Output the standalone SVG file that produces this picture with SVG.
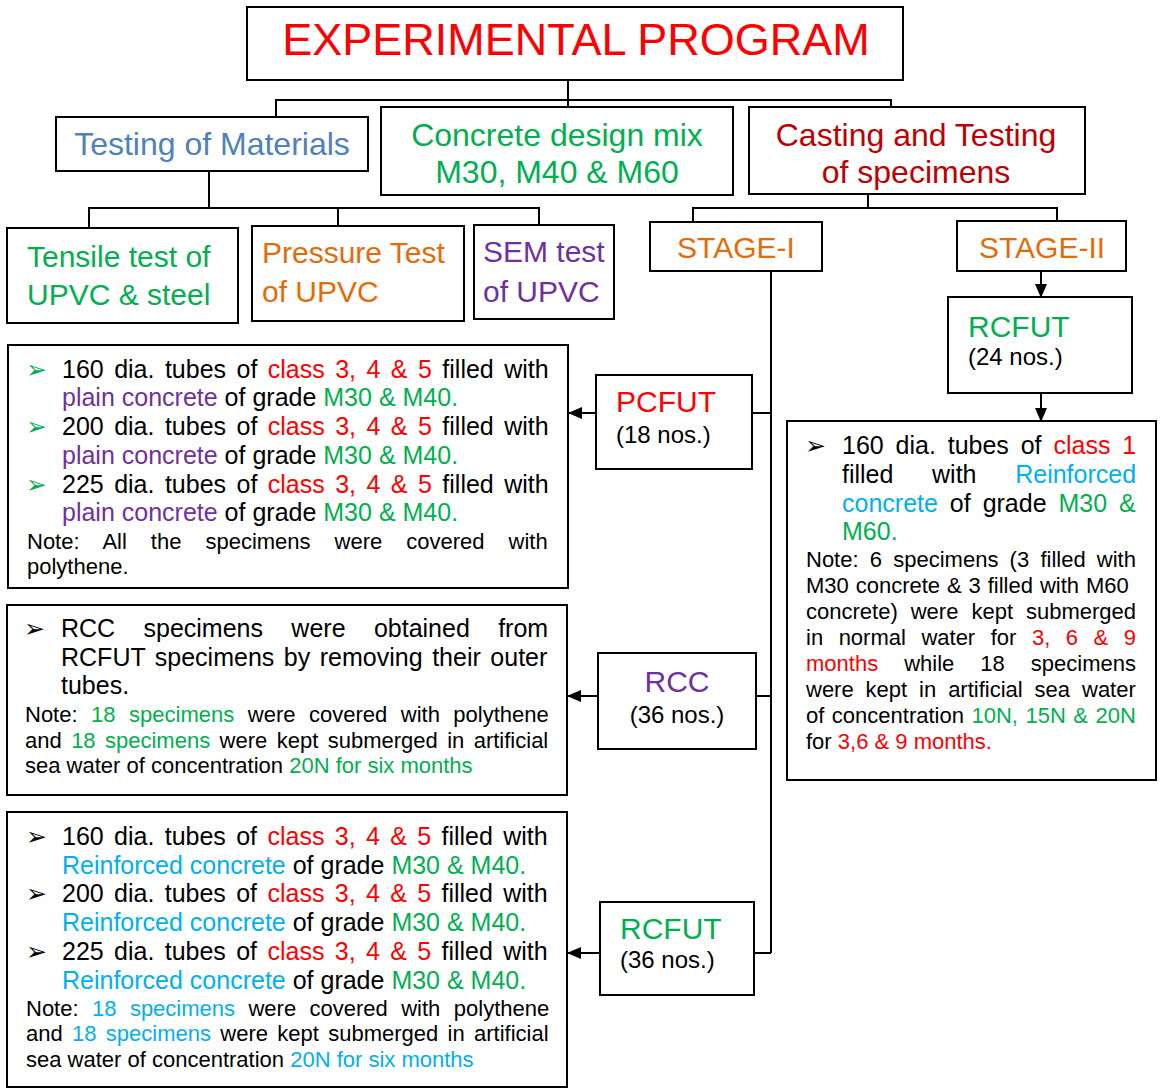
<svg xmlns="http://www.w3.org/2000/svg" width="1160" height="1089" viewBox="0 0 1160 1089">
<defs>
<marker id="ah" markerUnits="userSpaceOnUse" markerWidth="14" markerHeight="12" refX="13" refY="6" orient="auto">
<path d="M0,0 L14,6 L0,12 Z" fill="#000"/>
</marker>
<style>
rect{fill:#fff;stroke:#000;stroke-width:2}
text{font-family:"Liberation Sans",Arial,Helvetica,sans-serif;fill:#000}
.c line,.c path{stroke:#000;stroke-width:2;fill:none}
.b{font-family:"DejaVu Sans",sans-serif;font-size:25px}
.f25{font-size:25px}
.f22{font-size:22px}
.f24{font-size:24px}
.f30{font-size:30px}
.f32{font-size:32px}
.red{fill:#FF0000}
.grn{fill:#00B050}
.pur{fill:#7030A0}
.lb{fill:#00B0F0}
.org{fill:#E36C09}
.blu{fill:#4F81BD}
.dr{fill:#C00000}
.mid{text-anchor:middle}
</style>
</defs>

<g class="c" id="connectors">
<path d="M568,80 V100 M276,117 V100 H891 V107 M568,100 V107"/>
<path d="M209,171 V208 M89,228 V208 H539 V225 M338,208 V226"/>
<path d="M868,194 V208 M693,222 V208 H1057 V221"/>
<path d="M771,271 V953 M752,413 H771 M756,696 H771 M754,953 H771"/>
<line x1="596" y1="413" x2="569" y2="413" marker-end="url(#ah)"/>
<line x1="598" y1="696" x2="568" y2="696" marker-end="url(#ah)"/>
<line x1="600" y1="953" x2="568" y2="953" marker-end="url(#ah)"/>
<line x1="1041" y1="271" x2="1041" y2="297" marker-end="url(#ah)"/>
<line x1="1041" y1="393" x2="1041" y2="421" marker-end="url(#ah)"/>
</g>

<g id="experimental-program">
<rect x="247" y="7" width="656" height="73"/>
<text x="576" y="55" class="mid red" font-size="45">EXPERIMENTAL PROGRAM</text>
</g>

<g id="testing-materials">
<rect x="56" y="117" width="312" height="54"/>
<text x="212" y="155" class="mid blu f32">Testing of Materials</text>
</g>

<g id="concrete-mix">
<rect x="381" y="107" width="352" height="88"/>
<text x="557" y="146" class="mid grn f32">Concrete design mix</text>
<text x="557" y="183" class="mid grn f32">M30, M40 &amp; M60</text>
</g>

<g id="casting-testing">
<rect x="749" y="107" width="336" height="87"/>
<text x="916" y="146" class="mid dr f32">Casting and Testing</text>
<text x="916" y="183" class="mid dr f32">of specimens</text>
</g>

<g id="tensile">
<rect x="7" y="228" width="231" height="95"/>
<text x="27" y="267" class="grn f30">Tensile test of</text>
<text x="27" y="305" class="grn f30">UPVC &amp; steel</text>
</g>

<g id="pressure">
<rect x="252" y="226" width="212" height="95"/>
<text x="262" y="263" class="org f30">Pressure Test</text>
<text x="262" y="302" class="org f30">of UPVC</text>
</g>

<g id="sem">
<rect x="474" y="225" width="140" height="94"/>
<text x="483" y="262" class="pur f30">SEM test</text>
<text x="483" y="302" class="pur f30">of UPVC</text>
</g>

<g id="stage-1">
<rect x="650" y="222" width="172" height="49"/>
<text x="736" y="258" class="mid org f30">STAGE-I</text>
</g>

<g id="stage-2">
<rect x="957" y="221" width="169" height="50"/>
<text x="1042" y="258" class="mid org f30">STAGE-II</text>
</g>

<g id="rcfut-stage2">
<rect x="948" y="297" width="184" height="96"/>
<text x="968" y="337" class="grn f30">RCFUT</text>
<text x="968" y="365" class="f24">(24 nos.)</text>
</g>

<g id="stage2-detail">
<rect x="787" y="421" width="369" height="359"/>
<text x="805" y="454" class="b">➢</text>
<text x="842" y="454" class="f25" word-spacing="4.9">160 dia. tubes of <tspan class="red">class 1</tspan></text>
<text x="842" y="483" class="f25" word-spacing="31.7">filled with <tspan class="lb">Reinforced</tspan></text>
<text x="842" y="512" class="f25" word-spacing="5"><tspan class="lb">concrete</tspan> of grade <tspan class="grn">M30 &amp;</tspan></text>
<text x="842" y="540" class="f25 grn">M60.</text>
<text x="806" y="567" class="f22" word-spacing="5.1">Note: 6 specimens (3 filled with</text>
<text x="806" y="593" class="f22" word-spacing="0.8">M30 concrete &amp; 3 filled with M60</text>
<text x="806" y="619" class="f22" word-spacing="6.9">concrete) were kept submerged</text>
<text x="806" y="645" class="f22" word-spacing="9.4">in normal water for <tspan class="red">3, 6 &amp; 9</tspan></text>
<text x="806" y="671" class="f22" word-spacing="19.9"><tspan class="red">months</tspan> while 18 specimens</text>
<text x="806" y="697" class="f22" word-spacing="5.8">were kept in artificial sea water</text>
<text x="806" y="723" class="f22" word-spacing="1.4">of concentration <tspan class="grn">10N, 15N &amp; 20N</tspan></text>
<text x="806" y="749" class="f22">for <tspan class="red">3,6 &amp; 9 months.</tspan></text>
</g>

<g id="pcfut">
<rect x="596" y="375" width="156" height="94"/>
<text x="616" y="412" class="red f30">PCFUT</text>
<text x="616" y="443" class="f24">(18 nos.)</text>
</g>

<g id="rcc">
<rect x="598" y="653" width="158" height="96"/>
<text x="677" y="692" class="mid pur f30">RCC</text>
<text x="677" y="723" class="mid f24">(36 nos.)</text>
</g>

<g id="rcfut-stage1">
<rect x="600" y="902" width="154" height="93"/>
<text x="620" y="939" class="grn f30">RCFUT</text>
<text x="620" y="968" class="f24">(36 nos.)</text>
</g>

<g id="pcfut-detail">
<rect x="8" y="345" width="560" height="243"/>
<text x="26" y="378" class="b grn">➢</text>
<text x="62" y="378" class="f25" word-spacing="3.5">160 dia. tubes of <tspan class="red">class 3, 4 &amp; 5</tspan> filled with</text>
<text x="62" y="406" class="f25"><tspan class="pur">plain concrete</tspan> of grade <tspan class="grn">M30 &amp; M40.</tspan></text>
<text x="26" y="435" class="b grn">➢</text>
<text x="62" y="435" class="f25" word-spacing="3.5">200 dia. tubes of <tspan class="red">class 3, 4 &amp; 5</tspan> filled with</text>
<text x="62" y="464" class="f25"><tspan class="pur">plain concrete</tspan> of grade <tspan class="grn">M30 &amp; M40.</tspan></text>
<text x="26" y="493" class="b grn">➢</text>
<text x="62" y="493" class="f25" word-spacing="3.5">225 dia. tubes of <tspan class="red">class 3, 4 &amp; 5</tspan> filled with</text>
<text x="62" y="521" class="f25"><tspan class="pur">plain concrete</tspan> of grade <tspan class="grn">M30 &amp; M40.</tspan></text>
<text x="27" y="549" class="f22" word-spacing="17.9">Note: All the specimens were covered with</text>
<text x="27" y="574" class="f22">polythene.</text>
</g>

<g id="rcc-detail">
<rect x="7" y="605" width="560" height="190"/>
<text x="24" y="637" class="b">➢</text>
<text x="61" y="637" class="f25" word-spacing="21.4">RCC specimens were obtained from</text>
<text x="61" y="666" class="f25" word-spacing="2.6">RCFUT specimens by removing their outer</text>
<text x="61" y="694" class="f25">tubes.</text>
<text x="25" y="722" class="f22" word-spacing="7.4">Note: <tspan class="grn">18 specimens</tspan> were covered with polythene</text>
<text x="25" y="748" class="f22" word-spacing="3.3">and <tspan class="grn">18 specimens</tspan> were kept submerged in artificial</text>
<text x="25" y="773" class="f22">sea water of concentration <tspan class="grn">20N for six months</tspan></text>
</g>

<g id="rcfut-detail">
<rect x="7" y="812" width="560" height="275"/>
<text x="26" y="845" class="b">➢</text>
<text x="62" y="845" class="f25" word-spacing="3.4">160 dia. tubes of <tspan class="red">class 3, 4 &amp; 5</tspan> filled with</text>
<text x="62" y="874" class="f25"><tspan class="lb">Reinforced concrete</tspan> of grade <tspan class="grn">M30 &amp; M40.</tspan></text>
<text x="26" y="902" class="b">➢</text>
<text x="62" y="902" class="f25" word-spacing="3.4">200 dia. tubes of <tspan class="red">class 3, 4 &amp; 5</tspan> filled with</text>
<text x="62" y="931" class="f25"><tspan class="lb">Reinforced concrete</tspan> of grade <tspan class="grn">M30 &amp; M40.</tspan></text>
<text x="26" y="960" class="b">➢</text>
<text x="62" y="960" class="f25" word-spacing="3.4">225 dia. tubes of <tspan class="red">class 3, 4 &amp; 5</tspan> filled with</text>
<text x="62" y="989" class="f25"><tspan class="lb">Reinforced concrete</tspan> of grade <tspan class="grn">M30 &amp; M40.</tspan></text>
<text x="26" y="1016" class="f22" word-spacing="7.3">Note: <tspan class="lb">18 specimens</tspan> were covered with polythene</text>
<text x="26" y="1041" class="f22" word-spacing="3.2">and <tspan class="lb">18 specimens</tspan> were kept submerged in artificial</text>
<text x="26" y="1067" class="f22">sea water of concentration <tspan class="lb">20N for six months</tspan></text>
</g>
</svg>
